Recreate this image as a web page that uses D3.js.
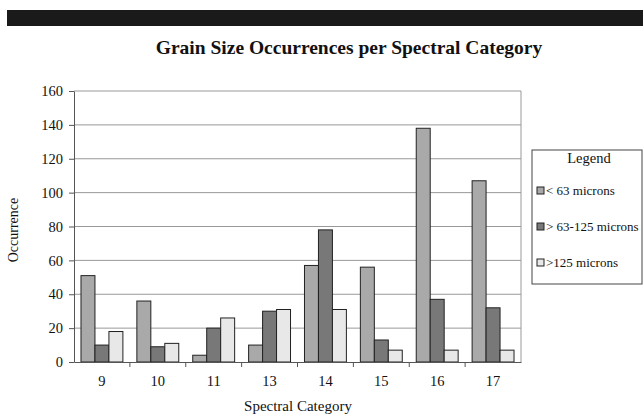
<!DOCTYPE html>
<html>
<head>
<meta charset="utf-8">
<script src="https://cdn.jsdelivr.net/npm/d3@7"></script>
<style>
  body { margin: 0; background: #fff; }
  text { font-family: "Liberation Serif", "Times New Roman", serif; fill: #111; }
</style>
</head>
<body>
<div id="chart"></div>
<script>
const categories = ["9", "10", "11", "13", "14", "15", "16", "17"];
const seriesNames = ["< 63 microns", "> 63-125 microns", ">125 microns"];
const fine = [51, 36, 4, 10, 57, 56, 138, 107];
const medium = [10, 9, 20, 30, 78, 13, 37, 32];
const coarse = [18, 11, 26, 31, 31, 7, 7, 7];
const yTicks = [0, 20, 40, 60, 80, 100, 120, 140, 160];
const colors = ["#a9a9a9", "#787878", "#e8e8e8"];

const width = 643, height = 415;
const plot = { left: 74, right: 521, top: 91, bottom: 362 };

const svg = d3.select("#chart").append("svg")
    .attr("width", width)
    .attr("height", height);

// dark band at top
svg.append("rect").attr("x", 7).attr("y", 10).attr("width", width - 7).attr("height", 16).attr("fill", "#1a1a1a");

svg.append("text")
    .attr("x", 349).attr("y", 54)
    .attr("text-anchor", "middle")
    .style("font-size", "19.5px").style("font-weight", "bold")
    .text("Grain Size Occurrences per Spectral Category");

const x = d3.scaleBand().domain(categories).range([plot.left, plot.right]);
const xInner = d3.scaleBand().domain(d3.range(3)).range([0, x.bandwidth()]).paddingInner(0).paddingOuter(0.5);
const y = d3.scaleLinear().domain([0, 160]).range([plot.bottom, plot.top]);

// grid
svg.append("g").selectAll("line").data(yTicks.slice(1))
  .enter().append("line")
    .attr("x1", plot.left).attr("x2", plot.right)
    .attr("y1", d => y(d)).attr("y2", d => y(d))
    .attr("stroke", "#999").attr("stroke-width", 1);
svg.append("line")
    .attr("x1", plot.right).attr("x2", plot.right)
    .attr("y1", plot.top).attr("y2", plot.bottom)
    .attr("stroke", "#999");

// bars
const data = categories.map((c, i) => ({ cat: c, vals: [fine[i], medium[i], coarse[i]] }));
const groups = svg.append("g").selectAll("g").data(data).enter().append("g")
    .attr("transform", d => `translate(${x(d.cat)},0)`);
groups.selectAll("rect").data(d => d.vals).enter().append("rect")
    .attr("x", (d, i) => xInner(i))
    .attr("width", xInner.bandwidth())
    .attr("y", d => y(d))
    .attr("height", d => y(0) - y(d))
    .attr("fill", (d, i) => colors[i])
    .attr("stroke", "#222").attr("stroke-width", 1);

// y axis
const yAxis = svg.append("g")
    .attr("transform", `translate(${plot.left},0)`)
    .call(d3.axisLeft(y).tickValues(yTicks).tickSize(5).tickSizeOuter(0).tickPadding(6));
yAxis.selectAll("text").style("font-size", "14.5px");
yAxis.selectAll("line, path").attr("stroke", "#555");

// x axis
const xAxis = svg.append("g")
    .attr("transform", `translate(0,${plot.bottom})`)
    .call(d3.axisBottom(x).tickSize(0).tickPadding(14));
xAxis.selectAll("text").style("font-size", "14.5px");
xAxis.select(".domain").attr("stroke", "#555");
svg.append("g").selectAll("line").data(categories.slice(1))
  .enter().append("line")
    .attr("x1", d => x(d)).attr("x2", d => x(d))
    .attr("y1", plot.bottom).attr("y2", plot.bottom + 5)
    .attr("stroke", "#555");

svg.append("text")
    .attr("x", 298).attr("y", 411)
    .attr("text-anchor", "middle")
    .style("font-size", "15px")
    .text("Spectral Category");

svg.append("text")
    .attr("transform", "translate(18,230) rotate(-90)")
    .attr("text-anchor", "middle")
    .style("font-size", "14px")
    .text("Occurrence");

// legend
const legend = svg.append("g").attr("transform", "translate(532,150)");
legend.append("rect")
    .attr("width", 110).attr("height", 134)
    .attr("fill", "#fff").attr("stroke", "#444");
legend.append("text")
    .attr("x", 57).attr("y", 13)
    .attr("text-anchor", "middle")
    .style("font-size", "14.5px")
    .text("Legend");
const items = legend.selectAll("g.item").data(seriesNames).enter().append("g")
    .attr("transform", (d, i) => `translate(5,${45 + i * 36})`);
items.append("rect")
    .attr("x", 0).attr("y", -8).attr("width", 7).attr("height", 7)
    .attr("fill", (d, i) => colors[i]).attr("stroke", "#222");
items.append("text")
    .attr("x", 9).attr("y", 0)
    .style("font-size", "13px")
    .text(d => d);
</script>
</body>
</html>
